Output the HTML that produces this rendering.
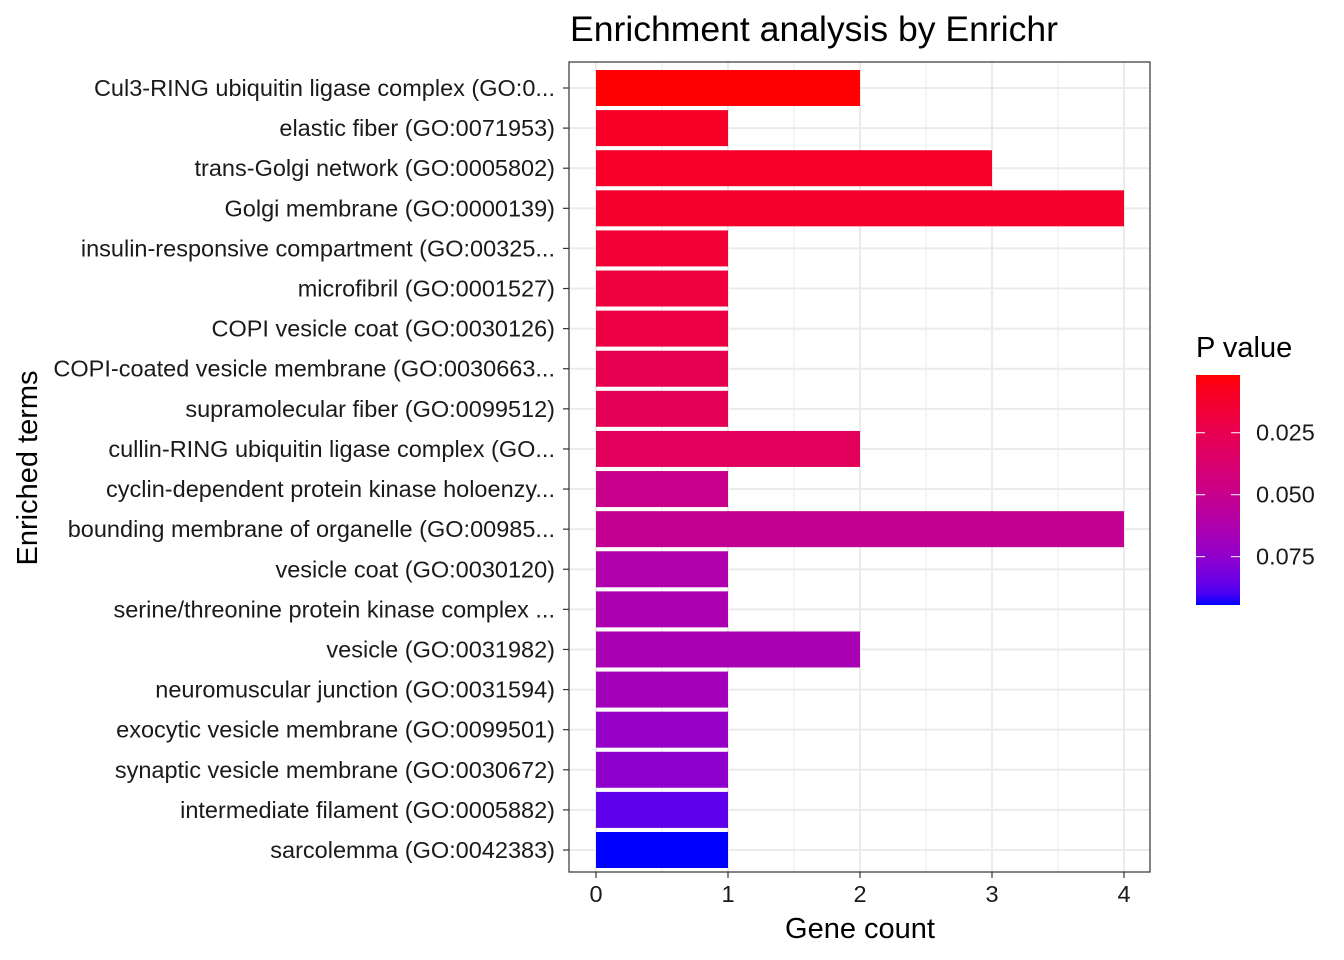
<!DOCTYPE html>
<html><head><meta charset="utf-8"><style>
body{margin:0;background:#fff}
svg{display:block;font-family:"Liberation Sans",Arial,sans-serif}
</style></head><body>
<svg id="chart" width="1344" height="960" xmlns="http://www.w3.org/2000/svg">
<text x="570" y="41" font-size="35" textLength="488" lengthAdjust="spacingAndGlyphs">Enrichment analysis by Enrichr</text>
<text transform="translate(37,468) rotate(-90)" text-anchor="middle" font-size="29">Enriched terms</text>
<text x="860" y="938" text-anchor="middle" font-size="29">Gene count</text>
<g id="grid"></g>
<g id="bars"></g>
<g id="axes"></g>
<g id="legend">
<text x="1196" y="357" font-size="29">P value</text>
<defs><linearGradient id="lg" x1="0" y1="0" x2="0" y2="1"></linearGradient></defs>
<rect x="1196" y="375" width="44" height="230" fill="url(#lg)"/>
</g>
</svg>
<script>
const terms=["Cul3-RING ubiquitin ligase complex (GO:0...","elastic fiber (GO:0071953)","trans-Golgi network (GO:0005802)","Golgi membrane (GO:0000139)","insulin-responsive compartment (GO:00325...","microfibril (GO:0001527)","COPI vesicle coat (GO:0030126)","COPI-coated vesicle membrane (GO:0030663...","supramolecular fiber (GO:0099512)","cullin-RING ubiquitin ligase complex (GO...","cyclin-dependent protein kinase holoenzy...","bounding membrane of organelle (GO:00985...","vesicle coat (GO:0030120)","serine/threonine protein kinase complex ...","vesicle (GO:0031982)","neuromuscular junction (GO:0031594)","exocytic vesicle membrane (GO:0099501)","synaptic vesicle membrane (GO:0030672)","intermediate filament (GO:0005882)","sarcolemma (GO:0042383)"];
const counts=[2,1,3,4,1,1,1,1,1,2,1,4,1,1,2,1,1,1,1,1];
const pvals=[0.002,0.01,0.011,0.012,0.015,0.018,0.02,0.025,0.028,0.03,0.049,0.052,0.062,0.064,0.065,0.068,0.073,0.075,0.087,0.0945];
const xTicks=[0,1,2,3,4];
const pTicks=[0.025,0.050,0.075];
const pMin=0.0017,pMax=0.0945;
const NS="http://www.w3.org/2000/svg";
const pl=569,pr=1150,pt=62,pb=872;
const x=v=>596+v*132;
const rowH=(850-88)/19;
const y=i=>88+i*rowH;
const py=p=>375+(p-pMin)/(pMax-pMin)*230;
function mk(t,a,parent){const e=document.createElementNS(NS,t);for(const k in a)e.setAttribute(k,a[k]);parent.appendChild(e);return e;}
function lin(c){c/=255;return c<=0.04045?c/12.92:Math.pow((c+0.055)/1.055,2.4)}
function gam(c){c=c<=0.0031308?12.92*c:1.055*Math.pow(c,1/2.4)-0.055;return Math.max(0,Math.min(255,Math.round(c*255)))}
function toLab(r,g,b){r=lin(r);g=lin(g);b=lin(b);let X=(r*0.4124+g*0.3576+b*0.1805)/0.95047,Y=r*0.2126+g*0.7152+b*0.0722,Z=(r*0.0193+g*0.1192+b*0.9505)/1.08883;const f=t=>t>0.008856?Math.cbrt(t):7.787*t+16/116;X=f(X);Y=f(Y);Z=f(Z);return[116*Y-16,500*(X-Y),200*(Y-Z)]}
function fromLab(L,a,bb){let Y=(L+16)/116,X=a/500+Y,Z=Y-bb/200;const fi=t=>t*t*t>0.008856?t*t*t:(t-16/116)/7.787;X=fi(X)*0.95047;Y=fi(Y);Z=fi(Z)*1.08883;const r=X*3.2406+Y*-1.5372+Z*-0.4986,g=X*-0.9689+Y*1.8758+Z*0.0415,b=X*0.0557+Y*-0.2040+Z*1.0570;return`rgb(${gam(r)},${gam(g)},${gam(b)})`}
const A=toLab(255,0,0),B=toLab(0,0,255);
function col(p){let t=(p-pMin)/(pMax-pMin);t=Math.max(0,Math.min(1,t));return fromLab(A[0]+(B[0]-A[0])*t,A[1]+(B[1]-A[1])*t,A[2]+(B[2]-A[2])*t)}
const grid=document.getElementById('grid'),bars=document.getElementById('bars'),axes=document.getElementById('axes');
for(let v=0.5;v<=4.3;v+=1){const l=mk('line',{x1:x(v),x2:x(v),y1:pt,y2:pb,stroke:'#ebebeb','stroke-width':1},grid);}
xTicks.forEach(v=>{const l=mk('line',{x1:x(v),x2:x(v),y1:pt,y2:pb,stroke:'#ebebeb','stroke-width':2},grid);});
terms.forEach((t,i)=>{const l=mk('line',{x1:pl,x2:pr,y1:y(i),y2:y(i),stroke:'#ebebeb','stroke-width':2},grid);});
terms.forEach((t,i)=>{
const r=mk('rect',{x:x(0),y:y(i)-18,width:x(counts[i])-x(0),height:36,fill:col(pvals[i])},bars);


const tk=mk('line',{x1:563,x2:569,y1:y(i),y2:y(i),stroke:'#333','stroke-width':1.2},axes);


const tx=mk('text',{x:555,y:y(i)+8,'text-anchor':'end','font-size':'23.5',fill:'#1a1a1a'},axes);
tx.textContent=t;


});
xTicks.forEach(v=>{
const tk=mk('line',{x1:x(v),x2:x(v),y1:pb,y2:pb+6,stroke:'#333','stroke-width':1.2},axes);


const tx=mk('text',{x:x(v),y:pb+30,'text-anchor':'middle','font-size':'23.5',fill:'#1a1a1a'},axes);
tx.textContent=v;


});
const border=mk('rect',{x:pl,y:pt,width:pr-pl,height:pb-pt,fill:'none',stroke:'#333','stroke-width':1.2},axes);


const lg=document.getElementById('lg');
for(let k=0;k<=20;k++){const p=pMin+(pMax-pMin)*k/20;mk('stop',{offset:(k*5)+'%','stop-color':col(p)},lg);}
const leg=document.getElementById('legend');
pTicks.forEach(p=>{
const a=mk('line',{x1:1196,x2:1205,y1:py(p),y2:py(p),stroke:'#fff','stroke-width':1},leg);


const b=mk('line',{x1:1231,x2:1240,y1:py(p),y2:py(p),stroke:'#fff','stroke-width':1},leg);


const tx=mk('text',{x:1256,y:py(p)+8,'font-size':'23.5',fill:'#1a1a1a'},leg);
tx.textContent=p.toFixed(3);


});
</script>
</body></html>
